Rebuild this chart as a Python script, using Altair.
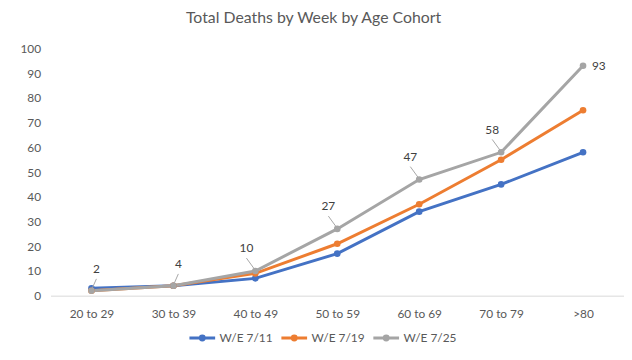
import altair as alt
import pandas as pd

cats = ["20 to 29", "30 to 39", "40 to 49", "50 to 59", "60 to 69", "70 to 79", ">80"]
series_names = ["W/E 7/11", "W/E 7/19", "W/E 7/25"]
w711 = [3, 4, 7, 17, 34, 45, 58]
w719 = [2, 4, 9, 21, 37, 55, 75]
w725 = [2, 4, 10, 27, 47, 58, 93]
colors = ["#4472C4", "#ED7D31", "#A5A5A5"]

rows = []
for s, vals in zip(series_names, [w711, w719, w725]):
    for i, (c, v) in enumerate(zip(cats, vals)):
        rows.append({"cat": c, "series": s, "value": v, "idx": i, "sidx": series_names.index(s)})
df = pd.DataFrame(rows)
lab = pd.DataFrame({"cat": cats, "value": w725, "idx": list(range(len(cats)))})

FONT = "Lato"
xenc = alt.X("cat:N", sort=cats, title=None,
             scale=alt.Scale(type="point", padding=0.5),
             axis=alt.Axis(labelAngle=0, ticks=False, domainColor="#D9D9D9",
                           labelPadding=13, labelColor="#595959", labelFontSize=12, labelFont=FONT))
yenc = alt.Y("value:Q", title=None,
             scale=alt.Scale(domain=[0, 100], nice=False),
             axis=alt.Axis(values=list(range(0, 101, 10)), grid=False, domain=False, ticks=False,
                           labelOverlap=False,
                           labelPadding=10, labelColor="#595959", labelFontSize=12, labelFont=FONT))
cscale = alt.Scale(domain=series_names, range=colors)

legend_path = ("M-2.6,0 L2.6,0 "
               "M-0.4,0 A0.4,0.4 0 1,0 0.4,0 A0.4,0.4 0 1,0 -0.4,0")
leg = alt.Legend(title=None, orient="none", direction="horizontal", legendX=147, legendY=286,
                 symbolType=legend_path, symbolSize=100, symbolStrokeWidth=3,
                 labelColor="#595959", labelFontSize=12, labelFont=FONT,
                 labelOffset=11, columnPadding=2, symbolOpacity=1)
cenc = alt.Color("series:N", scale=cscale, legend=leg)

base = alt.Chart(df)
lines = base.mark_line(strokeWidth=3).encode(
    x=xenc, y=yenc, color=cenc, detail="series:N", order="idx:Q",
)
points = base.mark_point(filled=True, size=45, opacity=1).encode(
    x=xenc, y=yenc, color=cenc, order="sidx:Q",
)

lb = alt.Chart(lab)
grpA = "datum.idx <= 1"
grpB = "datum.idx >= 2 && datum.idx <= 5"
grpC = "datum.idx == 6"

ruleA = lb.transform_filter(grpA).mark_rule(color="#A6A6A6", strokeWidth=1,
                                             xOffset=1, yOffset=-3, x2Offset=5, y2Offset=-12).encode(
    x=xenc, x2="cat:N", y=yenc, y2="value:Q")
ruleB = lb.transform_filter(grpB).mark_rule(color="#A6A6A6", strokeWidth=1,
                                             xOffset=-1, yOffset=-2, x2Offset=-9, y2Offset=-13).encode(
    x=xenc, x2="cat:N", y=yenc, y2="value:Q")

tA = lb.transform_filter(grpA).mark_text(dx=5, dy=-22, fontSize=12, font=FONT, color="#404040").encode(
    x=xenc, y=yenc, text="value:Q")
tB = lb.transform_filter(grpB).mark_text(dx=-9, dy=-23, fontSize=12, font=FONT, color="#404040").encode(
    x=xenc, y=yenc, text="value:Q")
tC = lb.transform_filter(grpC).mark_text(dx=9, dy=0, align="left", fontSize=12, font=FONT, color="#404040").encode(
    x=xenc, y=yenc, text="value:Q")

chart = alt.layer(lines, points, ruleA, ruleB, tA, tB, tC).properties(
    width=580, height=250,
    padding={"left": 12, "top": 0, "right": 0, "bottom": 2},
    title=alt.TitleParams("Total Deaths by Week by Age Cohort", fontSize=16, font=FONT,
                          fontWeight="normal", color="#595959", anchor="middle", offset=17, dx=-24),
).configure_view(stroke=None)

chart.save("out.html", embed_options={"renderer": "svg", "actions": False})
